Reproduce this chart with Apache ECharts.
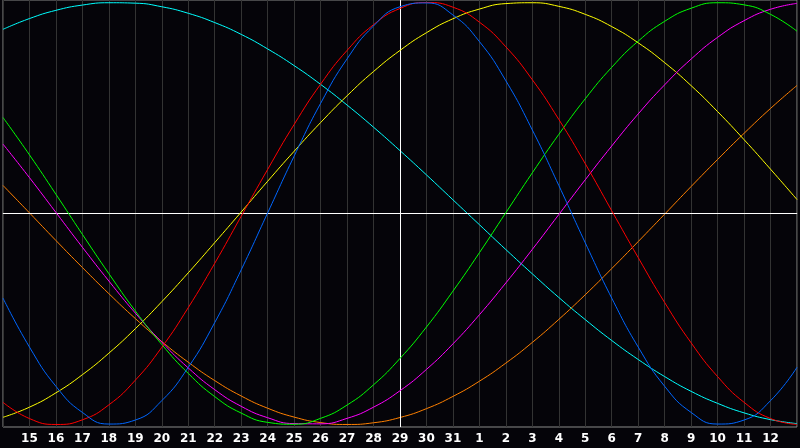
<!DOCTYPE html>
<html>
<head>
<meta charset="utf-8">
<script src="https://cdn.jsdelivr.net/npm/echarts@6/dist/echarts.min.js"></script>
<style>html,body{margin:0;padding:0;background:#050409;}#c{width:800px;height:448px;}</style>
</head>
<body>
<div id="c"></div>
<script>
const days = ['14','15','16','17','18','19','20','21','22','23','24','25','26','27','28','29','30','31','1','2','3','4','5','6','7','8','9','10','11','12','13'];
const physical = [-0.401,-0.633,-0.819,-0.943,-0.998,-0.979,-0.887,-0.729,-0.517,-0.267,0.003,0.272,0.522,0.733,0.889,0.980,0.998,0.941,0.815,0.629,0.396,0.133,-0.139,-0.401,-0.633,-0.819,-0.943,-0.998,-0.979,-0.887,-0.729];
const emotional = [-0.895,-0.972,-1.000,-0.978,-0.907,-0.790,-0.634,-0.446,-0.236,-0.013,0.209,0.422,0.613,0.773,0.895,0.972,1.000,0.978,0.907,0.790,0.634,0.446,0.236,0.013,-0.209,-0.422,-0.613,-0.773,-0.895,-0.972,-1.000];
const intellectual = [0.455,0.278,0.091,-0.099,-0.285,-0.462,-0.621,-0.758,-0.868,-0.946,-0.990,-0.999,-0.971,-0.908,-0.812,-0.687,-0.538,-0.368,-0.186,0.004,0.193,0.375,0.544,0.693,0.817,0.911,0.973,0.999,0.989,0.944,0.864];
const intuitive = [0.329,0.170,0.005,-0.160,-0.320,-0.472,-0.610,-0.732,-0.835,-0.914,-0.968,-0.996,-0.997,-0.971,-0.918,-0.840,-0.739,-0.618,-0.480,-0.329,-0.170,-0.005,0.160,0.320,0.472,0.610,0.732,0.835,0.914,0.968,0.996];
const awareness = [0.133,0.003,-0.128,-0.256,-0.380,-0.498,-0.607,-0.705,-0.792,-0.865,-0.923,-0.965,-0.991,-1.000,-0.992,-0.967,-0.925,-0.867,-0.795,-0.709,-0.611,-0.502,-0.385,-0.261,-0.133,-0.003,0.128,0.256,0.380,0.498,0.607];
const aesthetic = [-0.966,-0.918,-0.850,-0.764,-0.662,-0.546,-0.418,-0.281,-0.138,0.007,0.153,0.295,0.431,0.558,0.673,0.773,0.857,0.923,0.969,0.995,0.999,0.982,0.944,0.886,0.809,0.715,0.606,0.483,0.350,0.210,0.066];
const spiritual = [0.873,0.924,0.963,0.988,0.999,0.997,0.980,0.949,0.905,0.849,0.780,0.701,0.612,0.514,0.409,0.298,0.183,0.065,-0.053,-0.171,-0.286,-0.398,-0.503,-0.602,-0.692,-0.773,-0.843,-0.900,-0.945,-0.977,-0.996];
const todayIndex = 15;

const seriesDefs = [
  ['Spiritual', spiritual, '#00ffff'],
  ['Awareness', awareness, '#ff8000'],
  ['Aesthetic', aesthetic, '#ffff00'],
  ['Intuitive', intuitive, '#ff00ff'],
  ['Intellectual', intellectual, '#00ff00'],
  ['Emotional', emotional, '#ff0000'],
  ['Physical', physical, '#0066ff']
];

const chart = echarts.init(document.getElementById('c'), null, {renderer:'canvas'});
const series = seriesDefs.map(([name, data, color], k) => ({
  name, type:'line', data, smooth:true, symbol:'none', animation:false,
  lineStyle:{color, width:1}, z: 3 + k
}));
series[0].markLine = {
  silent:true, symbol:'none', animation:false, label:{show:false},
  lineStyle:{color:'#ffffff', width:1, type:'solid'},
  data:[{yAxis:0},{xAxis:todayIndex}]
};
chart.setOption({
  backgroundColor:'#050409',
  animation:false,
  grid:{left:0, right:0, top:0, bottom:21, show:true, borderColor:'#8a8a8a', borderWidth:1, backgroundColor:'#050409'},
  xAxis:{
    type:'category', data:days, boundaryGap:false,
    axisLine:{show:true, lineStyle:{color:'#8a8a8a', width:1}},
    axisTick:{show:false},
    axisLabel:{interval:0, color:'#ffffff', fontFamily:'DejaVu Sans', fontWeight:'bold', fontSize:12, margin:6,
      formatter:(v, i) => (i === 0 || i === days.length - 1) ? '' : v},
    splitLine:{show:true, interval:0, lineStyle:{color:'#333333', width:1}}
  },
  yAxis:{
    type:'value', min:-1.012, max:1.012,
    axisLine:{show:false}, axisTick:{show:false}, axisLabel:{show:false}, splitLine:{show:false}
  },
  series
});
</script>
</body>
</html>
